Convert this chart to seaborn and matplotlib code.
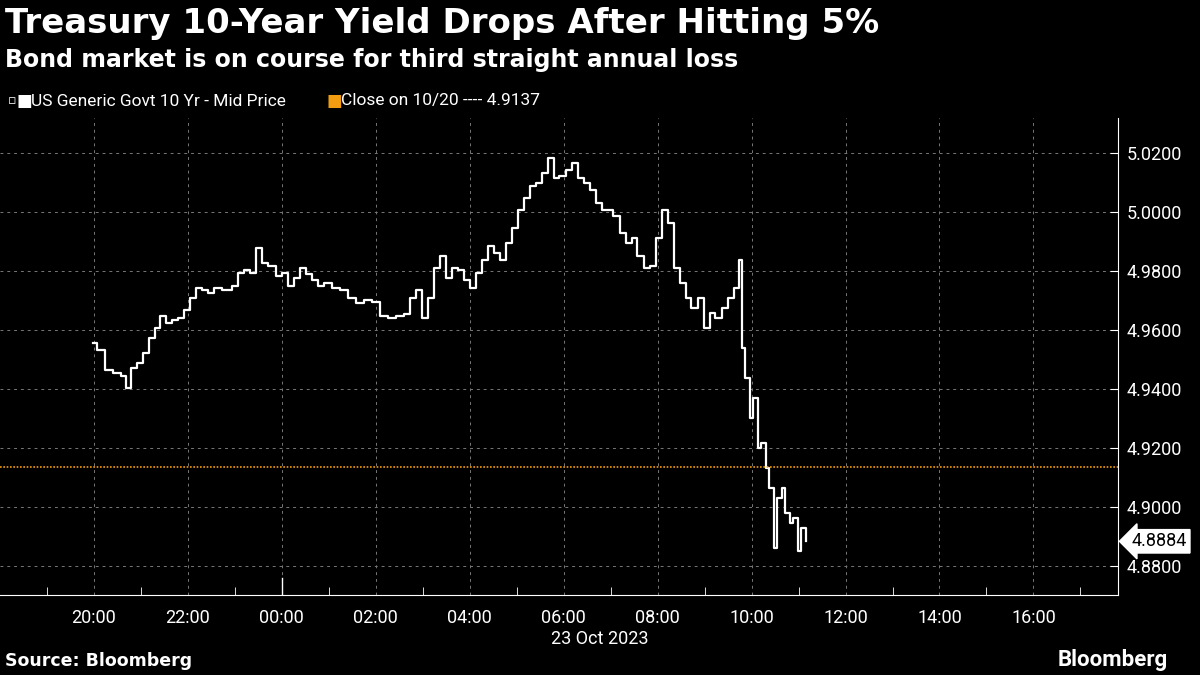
import matplotlib
matplotlib.use("Agg")
import matplotlib.pyplot as plt
import seaborn as sns
import pandas as pd
import numpy as np

# hours since 00:00 22 Oct 2023 (local)
hours = [19.98, 20.06, 20.23, 20.40, 20.57, 20.68, 20.79, 20.91, 21.04, 21.17, 21.30, 21.40, 21.53, 21.66, 21.79, 21.91,
         22.04, 22.17, 22.30, 22.43, 22.55, 22.72, 22.94, 23.06, 23.19, 23.32, 23.45, 23.57, 23.70, 23.87, 24.00, 24.13,
         24.26, 24.38, 24.51, 24.64, 24.77, 24.89, 25.06, 25.23, 25.40, 25.57, 25.74, 25.91, 26.09, 26.26, 26.43, 26.60,
         26.72, 26.85, 26.98, 27.11, 27.23, 27.36, 27.49, 27.62, 27.74, 27.87, 28.00, 28.13, 28.26, 28.38, 28.51, 28.64,
         28.77, 28.89, 29.02, 29.15, 29.28, 29.40, 29.53, 29.66, 29.79, 29.91, 30.04, 30.17, 30.30, 30.43, 30.55, 30.68,
         30.81, 30.94, 31.06, 31.19, 31.32, 31.45, 31.57, 31.70, 31.83, 31.96, 32.09, 32.21, 32.34, 32.47, 32.60, 32.72,
         32.85, 32.98, 33.11, 33.23, 33.36, 33.49, 33.62, 33.74, 33.79, 33.87, 33.96, 34.04, 34.13, 34.21, 34.30, 34.38,
         34.47, 34.55, 34.64, 34.72, 34.81, 34.89, 34.98, 35.06, 35.15]
yield_pct = [4.9556, 4.9532, 4.9464, 4.9454, 4.9444, 4.9403, 4.9471, 4.9488, 4.9522, 4.9573, 4.9607, 4.9647, 4.9624,
             4.9634, 4.9641, 4.9668, 4.9708, 4.9742, 4.9736, 4.9725, 4.9742, 4.9736, 4.9749, 4.9793, 4.9803, 4.9793,
             4.9878, 4.9827, 4.9817, 4.9783, 4.9793, 4.9749, 4.9776, 4.9810, 4.9790, 4.9769, 4.9749, 4.9759, 4.9742,
             4.9736, 4.9708, 4.9692, 4.9702, 4.9695, 4.9647, 4.9641, 4.9647, 4.9654, 4.9708, 4.9736, 4.9641, 4.9708,
             4.9810, 4.9851, 4.9776, 4.9810, 4.9803, 4.9769, 4.9742, 4.9793, 4.9837, 4.9885, 4.9861, 4.9837, 4.9895,
             4.9946, 5.0007, 5.0047, 5.0088, 5.0098, 5.0132, 5.0183, 5.0115, 5.0122, 5.0142, 5.0166, 5.0115, 5.0098,
             5.0075, 5.0031, 5.0007, 5.0007, 4.9986, 4.9929, 4.9895, 4.9912, 4.9851, 4.9810, 4.9817, 4.9912, 5.0007,
             4.9963, 4.9810, 4.9759, 4.9708, 4.9675, 4.9708, 4.9607, 4.9658, 4.9641, 4.9675, 4.9708, 4.9742, 4.9837,
             4.9539, 4.9437, 4.9302, 4.9369, 4.9200, 4.9217, 4.9132, 4.9064, 4.8861, 4.9030, 4.9064, 4.8980, 4.8946,
             4.8963, 4.8851, 4.8929, 4.8884]
prev_close = 4.9137
last_value = 4.8884
y_ticks = [4.88, 4.90, 4.92, 4.94, 4.96, 4.98, 5.00, 5.02]
x_ticks = [20, 22, 24, 26, 28, 30, 32, 34, 36, 38, 40]
x_labels = ["20:00", "22:00", "00:00", "02:00", "04:00", "06:00", "08:00", "10:00", "12:00", "14:00", "16:00"]

df = pd.DataFrame({"t": hours, "y": yield_pct})
fig = plt.figure(figsize=(12, 6.75), dpi=100, facecolor="black")
ax = fig.add_axes([0, 80/675, 1118/1200, (595-118)/675], facecolor="black")
sns.lineplot(data=df, x="t", y="y", ax=ax, color="white", lw=1.6, drawstyle="steps-post")
ax.axhline(prev_close, color="#f39c12", lw=1.2, ls=(0, (1, 1)))
ax.set_xlim(18, 41.8)
ax.set_ylim(4.8702, 5.0319)
ax.set_xticks(x_ticks)
ax.set_xticklabels(x_labels, color="white", fontsize=13, fontfamily="Roboto")
ax.set_xticks([h for h in range(19, 42, 2)], minor=True)
ax.tick_params(axis="x", which="major", length=0, pad=10)
ax.tick_params(axis="x", which="minor", length=6, color="white", direction="in")
ax.yaxis.tick_right()
ax.set_yticks(y_ticks)
ax.set_yticklabels([f"{v:.4f}" for v in y_ticks], color="white", fontsize=13, fontfamily="Roboto")
ax.tick_params(axis="y", length=6, color="white", direction="in", pad=6)
ax.grid(True, color="#777777", ls=(0, (3, 4)), lw=0.7)
for s in ["left", "top"]:
    ax.spines[s].set_visible(False)
for s in ["right", "bottom"]:
    ax.spines[s].set_color("white")
ax.axvline(24, ymin=0, ymax=0.035, color="white", lw=1)
ax.set_xlabel("")
ax.set_ylabel("")
ax.annotate(f"{last_value:.4f}", xy=(1.0, last_value), xycoords=("axes fraction", "data"),
            xytext=(10, 0), textcoords="offset points", va="center", ha="left",
            fontsize=13, fontfamily="Roboto", color="black",
            bbox=dict(boxstyle="larrow,pad=0.15", fc="white", ec="white"))
fig.text(0.5, 36/675, "23 Oct 2023", color="white", fontsize=13, fontfamily="Roboto", ha="center", va="center")
fig.text(5/1200, 1-24/675, "Treasury 10-Year Yield Drops After Hitting 5%", color="white", fontsize=24.5,
         fontweight="bold", va="center", ha="left", fontfamily="DejaVu Sans")
fig.text(5/1200, 1-60/675, "Bond market is on course for third straight annual loss", color="white", fontsize=17,
         fontweight="bold", va="center", ha="left", fontfamily="DejaVu Sans")
fig.text(8/1200, 1-101/675, "\u25ab", color="white", fontsize=9, va="center", ha="left", fontfamily="DejaVu Sans")
fig.text(17/1200, 1-101/675, "\u25a0", color="white", fontsize=12, va="center", ha="left", fontfamily="DejaVu Sans")
fig.text(31/1200, 1-101/675, "US Generic Govt 10 Yr - Mid Price", color="white", fontsize=12.5,
         va="center", ha="left", fontfamily="Roboto")
fig.text(326/1200, 1-101/675, "\u25a0", color="#f39c12", fontsize=12, va="center", ha="left", fontfamily="DejaVu Sans")
fig.text(341/1200, 1-101/675, "Close on 10/20 ---- 4.9137", color="white", fontsize=12.5, va="center", ha="left",
         fontfamily="Roboto")
fig.text(5/1200, 1-661/675, "Source: Bloomberg", color="white", fontsize=12.5, fontweight="bold", va="center",
         ha="left", fontfamily="DejaVu Sans")
fig.text(1168/1200, 1-660/675, "Bloomberg", color="white", fontsize=16, fontweight="bold", va="center",
         ha="right", fontfamily="Roboto")
fig.savefig("out.png", dpi=100, facecolor="black")
